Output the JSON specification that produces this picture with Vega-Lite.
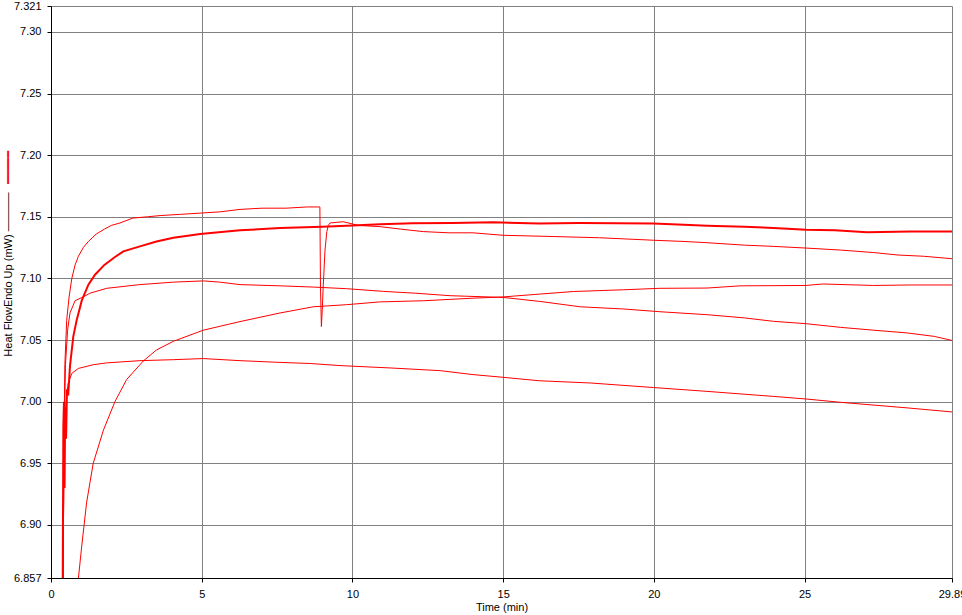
{
  "$schema": "https://vega.github.io/schema/vega-lite/v6.json",
  "width": 901,
  "height": 572,
  "autosize": {"type": "none"},
  "padding": {"left": 51, "top": 6, "right": 10, "bottom": 37},
  "background": "white",
  "config": {
    "view": {"stroke": null},
    "axis": {
      "labelFont": "Liberation Sans",
      "titleFont": "Liberation Sans",
      "labelFontSize": 11,
      "titleFontSize": 11,
      "labelColor": "black",
      "titleColor": "black",
      "titleFontWeight": "normal",
      "domainColor": "black",
      "tickColor": "black",
      "tickSize": 4,
      "gridColor": "#808080",
      "gridOpacity": 1,
      "gridWidth": 1
    }
  },
  "data": {
    "values": [
      {"s": "T", "t": 0.38, "v": 6.80}, {"s": "T", "t": 0.42, "v": 6.95}, {"s": "T", "t": 0.46, "v": 7.03}, {"s": "T", "t": 0.52, "v": 7.066}, {"s": "T", "t": 0.6, "v": 7.085}, {"s": "T", "t": 0.69, "v": 7.10}, {"s": "T", "t": 0.8, "v": 7.111}, {"s": "T", "t": 0.91, "v": 7.118}, {"s": "T", "t": 1.07, "v": 7.125}, {"s": "T", "t": 1.24, "v": 7.130}, {"s": "T", "t": 1.5, "v": 7.136}, {"s": "T", "t": 1.77, "v": 7.140}, {"s": "T", "t": 2.0, "v": 7.143}, {"s": "T", "t": 2.29, "v": 7.145}, {"s": "T", "t": 2.72, "v": 7.149}, {"s": "T", "t": 3.2, "v": 7.150}, {"s": "T", "t": 3.62, "v": 7.151}, {"s": "T", "t": 4.3, "v": 7.152}, {"s": "T", "t": 4.95, "v": 7.153}, {"s": "T", "t": 5.6, "v": 7.154}, {"s": "T", "t": 6.27, "v": 7.156}, {"s": "T", "t": 7.0, "v": 7.157}, {"s": "T", "t": 7.8, "v": 7.157}, {"s": "T", "t": 8.5, "v": 7.158}, {"s": "T", "t": 8.92, "v": 7.158}, {"s": "T", "t": 8.94, "v": 7.093}, {"s": "T", "t": 8.97, "v": 7.061}, {"s": "T", "t": 9.0, "v": 7.075}, {"s": "T", "t": 9.03, "v": 7.093}, {"s": "T", "t": 9.09, "v": 7.123}, {"s": "T", "t": 9.15, "v": 7.138}, {"s": "T", "t": 9.2, "v": 7.143}, {"s": "T", "t": 9.26, "v": 7.145}, {"s": "T", "t": 9.69, "v": 7.146}, {"s": "T", "t": 10.2, "v": 7.143}, {"s": "T", "t": 10.92, "v": 7.142}, {"s": "T", "t": 11.6, "v": 7.140}, {"s": "T", "t": 12.35, "v": 7.138}, {"s": "T", "t": 13.2, "v": 7.137}, {"s": "T", "t": 14.0, "v": 7.137}, {"s": "T", "t": 15.0, "v": 7.135}, {"s": "T", "t": 16.66, "v": 7.134}, {"s": "T", "t": 18.2, "v": 7.133}, {"s": "T", "t": 19.98, "v": 7.131}, {"s": "T", "t": 21.0, "v": 7.130}, {"s": "T", "t": 21.76, "v": 7.129}, {"s": "T", "t": 23.0, "v": 7.127}, {"s": "T", "t": 23.97, "v": 7.126}, {"s": "T", "t": 25.08, "v": 7.1246}, {"s": "T", "t": 26.2, "v": 7.123}, {"s": "T", "t": 27.29, "v": 7.121}, {"s": "T", "t": 28.1, "v": 7.119}, {"s": "T", "t": 28.95, "v": 7.118}, {"s": "T", "t": 29.89, "v": 7.116},

      {"s": "B", "t": 0.38, "v": 6.80}, {"s": "B", "t": 0.41, "v": 6.98}, {"s": "B", "t": 0.43, "v": 7.0}, {"s": "B", "t": 0.45, "v": 6.93}, {"s": "B", "t": 0.47, "v": 6.995}, {"s": "B", "t": 0.5, "v": 6.97}, {"s": "B", "t": 0.53, "v": 7.01}, {"s": "B", "t": 0.57, "v": 7.005}, {"s": "B", "t": 0.63, "v": 7.029}, {"s": "B", "t": 0.74, "v": 7.053}, {"s": "B", "t": 0.85, "v": 7.066}, {"s": "B", "t": 1.02, "v": 7.082}, {"s": "B", "t": 1.24, "v": 7.095}, {"s": "B", "t": 1.46, "v": 7.103}, {"s": "B", "t": 1.77, "v": 7.111}, {"s": "B", "t": 2.1, "v": 7.117}, {"s": "B", "t": 2.4, "v": 7.122}, {"s": "B", "t": 2.95, "v": 7.126}, {"s": "B", "t": 3.5, "v": 7.130}, {"s": "B", "t": 4.06, "v": 7.133}, {"s": "B", "t": 4.95, "v": 7.136}, {"s": "B", "t": 6.27, "v": 7.139}, {"s": "B", "t": 7.6, "v": 7.141}, {"s": "B", "t": 9.0, "v": 7.142}, {"s": "B", "t": 10.0, "v": 7.143}, {"s": "B", "t": 10.92, "v": 7.144}, {"s": "B", "t": 12.0, "v": 7.1448}, {"s": "B", "t": 13.3, "v": 7.145}, {"s": "B", "t": 14.67, "v": 7.1455}, {"s": "B", "t": 16.2, "v": 7.1445}, {"s": "B", "t": 17.5, "v": 7.145}, {"s": "B", "t": 18.8, "v": 7.1448}, {"s": "B", "t": 19.98, "v": 7.1445}, {"s": "B", "t": 21.0, "v": 7.1435}, {"s": "B", "t": 21.76, "v": 7.1427}, {"s": "B", "t": 23.0, "v": 7.142}, {"s": "B", "t": 23.97, "v": 7.141}, {"s": "B", "t": 25.05, "v": 7.1395}, {"s": "B", "t": 26.0, "v": 7.139}, {"s": "B", "t": 27.07, "v": 7.1375}, {"s": "B", "t": 28.5, "v": 7.138}, {"s": "B", "t": 29.89, "v": 7.138},

      {"s": "M", "t": 0.38, "v": 6.80}, {"s": "M", "t": 0.44, "v": 6.98}, {"s": "M", "t": 0.48, "v": 7.03}, {"s": "M", "t": 0.55, "v": 7.058}, {"s": "M", "t": 0.63, "v": 7.072}, {"s": "M", "t": 0.8, "v": 7.082}, {"s": "M", "t": 1.07, "v": 7.085}, {"s": "M", "t": 1.29, "v": 7.088}, {"s": "M", "t": 1.85, "v": 7.092}, {"s": "M", "t": 2.95, "v": 7.095}, {"s": "M", "t": 4.06, "v": 7.097}, {"s": "M", "t": 5.05, "v": 7.098}, {"s": "M", "t": 5.6, "v": 7.097}, {"s": "M", "t": 6.27, "v": 7.095}, {"s": "M", "t": 7.6, "v": 7.094}, {"s": "M", "t": 8.7, "v": 7.093}, {"s": "M", "t": 9.8, "v": 7.0917}, {"s": "M", "t": 11.03, "v": 7.0895}, {"s": "M", "t": 12.1, "v": 7.088}, {"s": "M", "t": 13.24, "v": 7.086}, {"s": "M", "t": 15.0, "v": 7.0846}, {"s": "M", "t": 16.2, "v": 7.0814}, {"s": "M", "t": 17.56, "v": 7.077}, {"s": "M", "t": 19.0, "v": 7.0752}, {"s": "M", "t": 20.2, "v": 7.073}, {"s": "M", "t": 21.76, "v": 7.0706}, {"s": "M", "t": 23.0, "v": 7.068}, {"s": "M", "t": 23.97, "v": 7.0652}, {"s": "M", "t": 25.05, "v": 7.0633}, {"s": "M", "t": 26.2, "v": 7.0603}, {"s": "M", "t": 27.3, "v": 7.058}, {"s": "M", "t": 28.4, "v": 7.0558}, {"s": "M", "t": 29.3, "v": 7.053}, {"s": "M", "t": 29.89, "v": 7.0497},

      {"s": "R", "t": 0.88, "v": 6.80}, {"s": "R", "t": 0.91, "v": 6.857}, {"s": "R", "t": 1.02, "v": 6.883}, {"s": "R", "t": 1.18, "v": 6.918}, {"s": "R", "t": 1.4, "v": 6.95}, {"s": "R", "t": 1.74, "v": 6.977}, {"s": "R", "t": 2.12, "v": 7.0}, {"s": "R", "t": 2.51, "v": 7.018}, {"s": "R", "t": 3.06, "v": 7.033}, {"s": "R", "t": 3.5, "v": 7.042}, {"s": "R", "t": 4.06, "v": 7.049}, {"s": "R", "t": 5.05, "v": 7.058}, {"s": "R", "t": 6.27, "v": 7.065}, {"s": "R", "t": 7.6, "v": 7.072}, {"s": "R", "t": 8.7, "v": 7.077}, {"s": "R", "t": 9.8, "v": 7.0787}, {"s": "R", "t": 10.92, "v": 7.081}, {"s": "R", "t": 12.36, "v": 7.0819}, {"s": "R", "t": 14.0, "v": 7.084}, {"s": "R", "t": 15.0, "v": 7.085}, {"s": "R", "t": 16.2, "v": 7.0873}, {"s": "R", "t": 17.33, "v": 7.0894}, {"s": "R", "t": 19.0, "v": 7.0908}, {"s": "R", "t": 20.2, "v": 7.092}, {"s": "R", "t": 21.76, "v": 7.0922}, {"s": "R", "t": 22.86, "v": 7.094}, {"s": "R", "t": 25.05, "v": 7.0943}, {"s": "R", "t": 25.6, "v": 7.0955}, {"s": "R", "t": 27.29, "v": 7.0943}, {"s": "R", "t": 28.5, "v": 7.0947}, {"s": "R", "t": 29.89, "v": 7.0947},

      {"s": "L", "t": 0.38, "v": 6.80}, {"s": "L", "t": 0.43, "v": 6.95}, {"s": "L", "t": 0.47, "v": 6.99}, {"s": "L", "t": 0.52, "v": 7.005}, {"s": "L", "t": 0.57, "v": 7.015}, {"s": "L", "t": 0.69, "v": 7.023}, {"s": "L", "t": 0.91, "v": 7.027}, {"s": "L", "t": 1.4, "v": 7.030}, {"s": "L", "t": 1.85, "v": 7.0315}, {"s": "L", "t": 2.95, "v": 7.0333}, {"s": "L", "t": 4.06, "v": 7.0341}, {"s": "L", "t": 5.05, "v": 7.035}, {"s": "L", "t": 6.27, "v": 7.0333}, {"s": "L", "t": 7.5, "v": 7.032}, {"s": "L", "t": 8.6, "v": 7.031}, {"s": "L", "t": 9.59, "v": 7.0293}, {"s": "L", "t": 11.25, "v": 7.0274}, {"s": "L", "t": 12.91, "v": 7.0252}, {"s": "L", "t": 14.0, "v": 7.022}, {"s": "L", "t": 15.0, "v": 7.0198}, {"s": "L", "t": 16.2, "v": 7.017}, {"s": "L", "t": 17.89, "v": 7.0152}, {"s": "L", "t": 19.99, "v": 7.0115}, {"s": "L", "t": 21.76, "v": 7.0084}, {"s": "L", "t": 23.97, "v": 7.0043}, {"s": "L", "t": 25.05, "v": 7.0022}, {"s": "L", "t": 26.2, "v": 6.9995}, {"s": "L", "t": 28.4, "v": 6.995}, {"s": "L", "t": 29.89, "v": 6.9917}
    ]
  },
  "layer": [
    {
      "transform": [{"filter": "datum.s !== 'B'"}],
      "mark": {"type": "line", "color": "#ff0000", "strokeWidth": 1, "clip": true},
      "encoding": {
        "x": {
          "field": "t", "type": "quantitative",
          "scale": {"domain": [0, 29.89], "nice": false, "zero": false},
          "axis": {
            "title": "Time (min)",
            "values": [0, 5, 10, 15, 20, 25, 29.89],
            "labelExpr": "datum.value == 29.89 ? '29.89' : format(datum.value, 'd')",
            "labelFlush": false,
            "labelOverlap": false,
            "labelPadding": 6,
            "titlePadding": 2,
            "grid": true
          }
        },
        "y": {
          "field": "v", "type": "quantitative",
          "scale": {"domain": [6.857, 7.321], "nice": false, "zero": false},
          "axis": {
            "orient": "left",
            "title": "Heat FlowEndo Up (mW)   ─────",
            "titleAngle": 270,
            "titleAlign": "center",
            "titleBaseline": "middle",
            "titleX": -43,
            "titleY": 268,
            "values": [6.857, 6.9, 6.95, 7.0, 7.05, 7.1, 7.15, 7.2, 7.25, 7.3, 7.321],
            "labelExpr": "(datum.value == 6.857 || datum.value == 7.321) ? format(datum.value, '.3f') : format(datum.value, '.2f')",
            "labelFlush": false,
            "labelOverlap": false,
            "labelPadding": 6,
            "grid": true
          }
        },
        "detail": {"field": "s", "type": "nominal"}
      }
    },
    {
      "transform": [{"filter": "datum.s === 'B'"}],
      "mark": {"type": "line", "color": "#ff0000", "strokeWidth": 2, "clip": true},
      "encoding": {
        "x": {"field": "t", "type": "quantitative"},
        "y": {
          "field": "v", "type": "quantitative",
          "axis": {
            "orient": "left",
            "title": "━━━━━",
            "titleFont": "DejaVu Sans",
            "titleColor": "#ff0000",
            "titleAngle": 270,
            "titleAlign": "center",
            "titleBaseline": "middle",
            "titleX": -43,
            "titleY": 161,
            "labels": false,
            "ticks": false,
            "domain": false,
            "grid": false
          }
        }
      }
    }
  ],
  "resolve": {"axis": {"y": "independent"}}
}
